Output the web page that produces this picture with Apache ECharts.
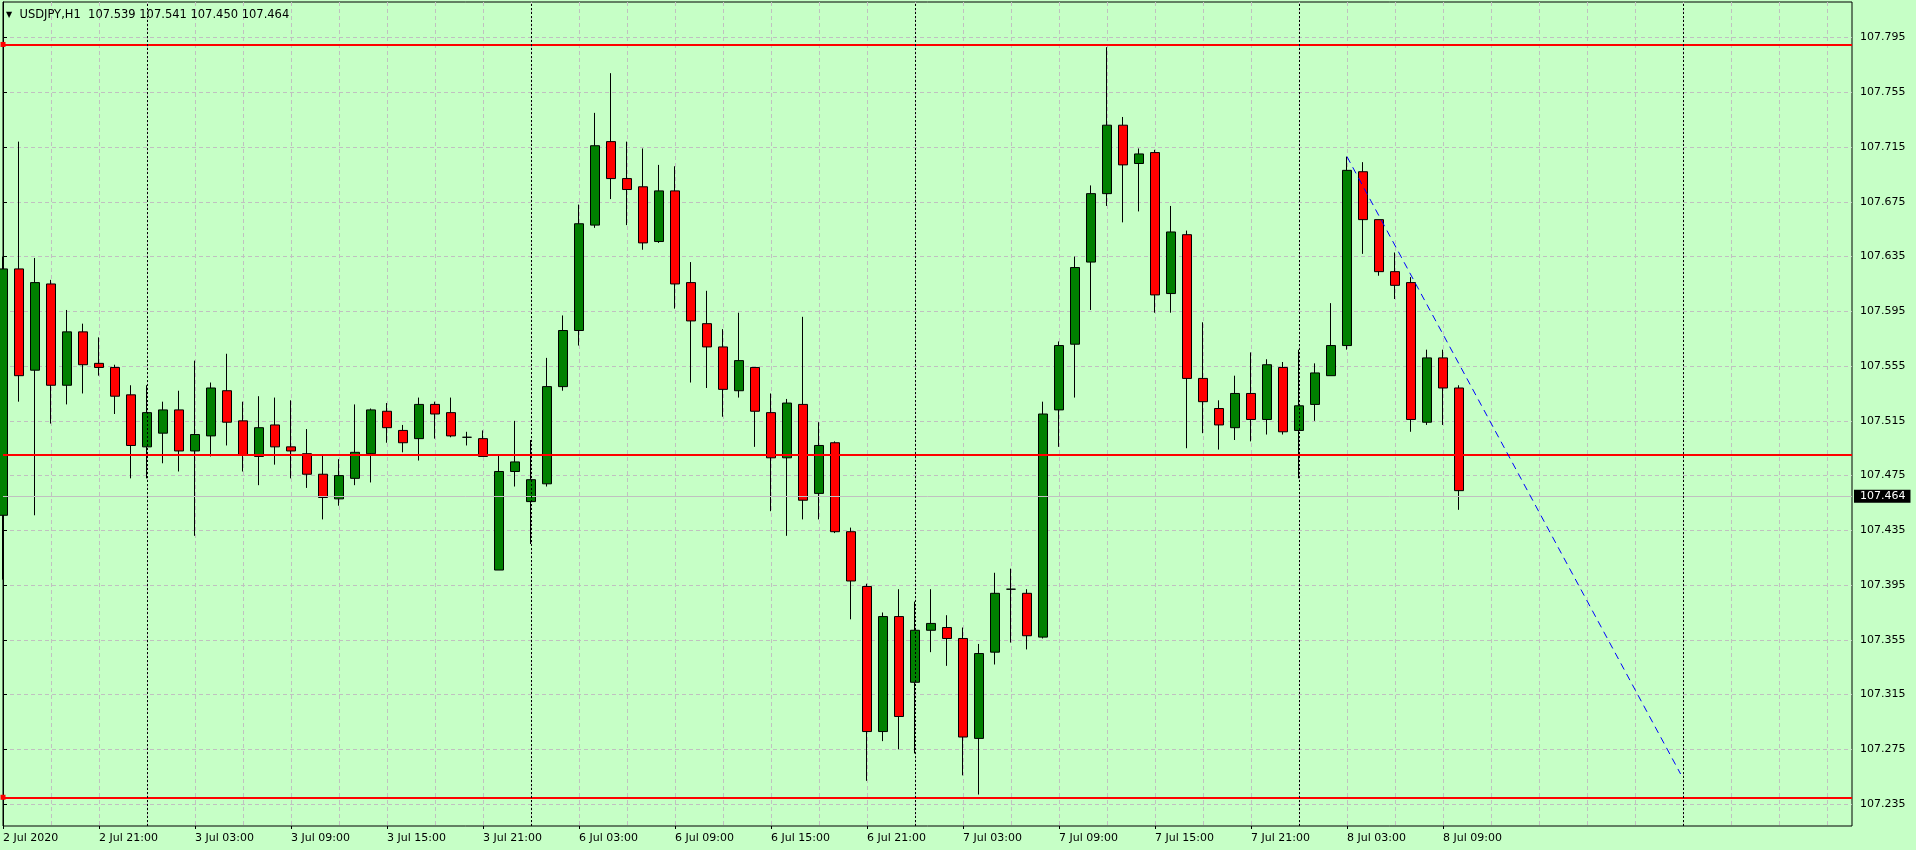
<!DOCTYPE html>
<html><head><meta charset="utf-8">
<script src="https://cdn.jsdelivr.net/npm/echarts@6/dist/echarts.min.js"></script>
<style>html,body{margin:0;padding:0;background:#c6ffc6;}#c{width:1916px;height:850px;}</style>
</head><body><div id="c"></div>
<script>
// ---- data (USDJPY H1) ----
const opens  = [107.446,107.626,107.552,107.615,107.541,107.580,107.557,107.554,107.534,107.496,
                107.506,107.523,107.493,107.504,107.537,107.515,107.489,107.512,107.496,107.491,
                107.476,107.458,107.473,107.491,107.522,107.508,107.502,107.527,107.521,107.503,
                107.502,107.406,107.478,107.456,107.469,107.540,107.581,107.658,107.719,107.692,
                107.686,107.646,107.683,107.616,107.586,107.569,107.537,107.554,107.521,107.488,
                107.527,107.462,107.499,107.434,107.394,107.288,107.372,107.324,107.362,107.364,
                107.356,107.283,107.346,107.392,107.389,107.357,107.523,107.571,107.631,107.681,
                107.731,107.703,107.711,107.608,107.651,107.546,107.524,107.510,107.535,107.516,
                107.554,107.508,107.527,107.548,107.570,107.697,107.662,107.624,107.616,107.514,
                107.561,107.539];
const closes = [107.626,107.548,107.616,107.541,107.580,107.556,107.554,107.533,107.497,107.521,
                107.523,107.493,107.505,107.539,107.514,107.490,107.510,107.496,107.493,107.476,
                107.459,107.475,107.492,107.523,107.510,107.499,107.527,107.520,107.504,107.503,
                107.489,107.478,107.485,107.472,107.540,107.581,107.659,107.716,107.692,107.684,
                107.645,107.683,107.615,107.588,107.569,107.538,107.559,107.522,107.488,107.528,
                107.457,107.497,107.434,107.398,107.288,107.372,107.299,107.362,107.367,107.356,
                107.284,107.345,107.389,107.392,107.358,107.520,107.570,107.627,107.681,107.731,
                107.702,107.710,107.607,107.653,107.546,107.529,107.512,107.535,107.516,107.556,
                107.507,107.526,107.550,107.570,107.698,107.662,107.624,107.614,107.516,107.561,
                107.539,107.464];
const lows   = [107.399,107.529,107.446,107.513,107.527,107.535,107.548,107.520,107.473,107.473,
                107.484,107.478,107.431,107.489,107.497,107.478,107.468,107.483,107.473,107.466,
                107.443,107.453,107.468,107.470,107.499,107.492,107.486,107.502,107.503,107.497,
                107.489,107.406,107.467,107.425,107.467,107.537,107.570,107.656,107.677,107.658,
                107.640,107.645,107.597,107.543,107.539,107.518,107.532,107.496,107.449,107.431,
                107.443,107.443,107.433,107.370,107.252,107.281,107.275,107.272,107.346,107.336,
                107.256,107.242,107.337,107.353,107.348,107.356,107.496,107.532,107.596,107.672,
                107.660,107.668,107.594,107.594,107.495,107.506,107.494,107.501,107.500,107.505,
                107.505,107.473,107.515,107.548,107.567,107.637,107.621,107.604,107.507,107.512,
                107.512,107.450];
const highs  = [107.635,107.719,107.634,107.618,107.596,107.586,107.576,107.556,107.541,107.541,
                107.529,107.537,107.559,107.543,107.564,107.529,107.533,107.532,107.530,107.509,
                107.490,107.487,107.527,107.524,107.528,107.512,107.532,107.529,107.532,107.507,
                107.508,107.490,107.515,107.501,107.561,107.592,107.673,107.740,107.769,107.719,
                107.714,107.702,107.701,107.631,107.610,107.582,107.594,107.554,107.535,107.531,
                107.591,107.514,107.500,107.437,107.396,107.375,107.392,107.383,107.392,107.373,
                107.364,107.352,107.404,107.407,107.392,107.529,107.573,107.635,107.687,107.788,
                107.737,107.714,107.713,107.672,107.654,107.587,107.530,107.548,107.565,107.560,
                107.558,107.567,107.557,107.601,107.708,107.704,107.662,107.638,107.620,107.567,
                107.567,107.541];

const xTickValues = [0,6,12,18,24,30,36,42,48,54,60,66,72,78,84,90];
const xTickLabels = ['2 Jul 2020','2 Jul 21:00','3 Jul 03:00','3 Jul 09:00','3 Jul 15:00','3 Jul 21:00',
                     '6 Jul 03:00','6 Jul 09:00','6 Jul 15:00','6 Jul 21:00','7 Jul 03:00','7 Jul 09:00',
                     '7 Jul 15:00','7 Jul 21:00','8 Jul 03:00','8 Jul 09:00'];
const xGridValues = [0,3,6,9,12,15,18,21,24,27,30,33,36,39,42,45,48,51,54,57,60,63,66,69,72,75,
                     78,81,84,87,90,93,96,99,102,105,108,111,114];
const yTickValues = [107.235,107.275,107.315,107.355,107.395,107.435,107.475,107.515,
                     107.555,107.595,107.635,107.675,107.715,107.755,107.795];
const daySeparators = [9,33,57,81,105];
const redLevels = [107.788,107.491,107.241];
const lastPrice = 107.464;
const trendX = [84, 104.85];
const trendY = [107.708, 107.257];
const headerText = 'USDJPY,H1  107.539 107.541 107.450 107.464';

// ---- chart ----
const FONT = 'DejaVu Sans';
const SLOTS = 1849 / 16;
const GRID_LINE = {color: '#c0c0c0', width: 1, type: [4, 3]};
const candleData = opens.map((o, i) => [i, o, closes[i], lows[i], highs[i]]);
const chart = echarts.init(document.getElementById('c'), null, {renderer: 'canvas'});

const markData = [];
redLevels.forEach((v, k) => {
  const item = {yAxis: v, lineStyle: {color: '#ff0000', width: 2, type: 'solid'}};
  if (k !== 1) { item.symbol = ['emptyRect', 'emptyRect']; item.symbolSize = [5, 5]; }
  markData.push(item);
});
markData.push({
  yAxis: lastPrice,
  lineStyle: {color: '#c0c0c0', width: 1, type: 'solid'},
  label: {show: true, position: 'end', distance: 2, formatter: lastPrice.toFixed(3),
          color: '#ffffff', backgroundColor: '#000000', padding: [1, 5, 0, 6],
          fontFamily: FONT, fontSize: 11, lineHeight: 12}
});
daySeparators.forEach(v => markData.push({xAxis: v, lineStyle: {color: '#000', width: 1, type: [2, 2]}}));

chart.setOption({
  backgroundColor: '#c6ffc6',
  animation: false,
  title: {
    text: '{t|▼}  ' + headerText, left: 6, top: 9, padding: 0,
    textStyle: {fontFamily: FONT, fontSize: 11.5, fontWeight: 'normal', color: '#000',
      rich: {t: {fontSize: 8, fontFamily: FONT, color: '#000'}}}
  },
  grid: {left: 3, top: 2, width: 1849, height: 824, show: true, borderColor: '#000',
         borderWidth: 1, backgroundColor: 'transparent'},
  xAxis: [
    {type: 'value', position: 'bottom', min: 0, max: SLOTS,
     axisLine: {show: false},
     axisTick: {show: false, customValues: xGridValues},
     axisLabel: {show: false},
     splitLine: {show: true, lineStyle: GRID_LINE},
     minorSplitLine: {show: false}},
    {type: 'value', position: 'bottom', min: 0, max: SLOTS,
     axisLine: {show: false},
     axisTick: {show: true, customValues: xTickValues, length: 3, lineStyle: {color: '#000'}},
     axisLabel: {customValues: xTickValues, align: 'left', margin: 7,
       formatter: v => { const k = xTickValues.indexOf(Math.round(v)); return k >= 0 ? xTickLabels[k] : ''; },
       fontFamily: FONT, fontSize: 11, color: '#000'},
     splitLine: {show: false}, minorSplitLine: {show: false}}
  ],
  yAxis: {
    type: 'value', position: 'right', min: 107.219, max: 107.821,
    axisLine: {show: true, lineStyle: {color: '#000'}},
    axisTick: {show: true, customValues: yTickValues, length: 4, lineStyle: {color: '#000'}},
    axisLabel: {customValues: yTickValues, formatter: v => v.toFixed(3), margin: 8,
                fontFamily: FONT, fontSize: 11, color: '#000'},
    splitLine: {show: true, lineStyle: GRID_LINE}
  },
  series: [
    {
      type: 'candlestick', xAxisIndex: 0, yAxisIndex: 0, data: candleData, barWidth: 10,
      clip: true,
      itemStyle: {color: '#008000', color0: '#ff0000', borderColor: '#000', borderColor0: '#000',
                  borderColorDoji: '#000', borderWidth: 1},
      emphasis: {disabled: true},
      markLine: {silent: true, animation: false, symbol: ['none', 'none'],
                 label: {show: false}, emphasis: {disabled: true}, data: markData}
    },
    {
      type: 'line', xAxisIndex: 0, yAxisIndex: 0, silent: true, symbol: 'none', z: 5,
      data: trendX.map((x, i) => [x, trendY[i]]),
      lineStyle: {color: '#0000ff', width: 1, type: [7, 5]}
    }
  ]
});
</script>
</body></html>
